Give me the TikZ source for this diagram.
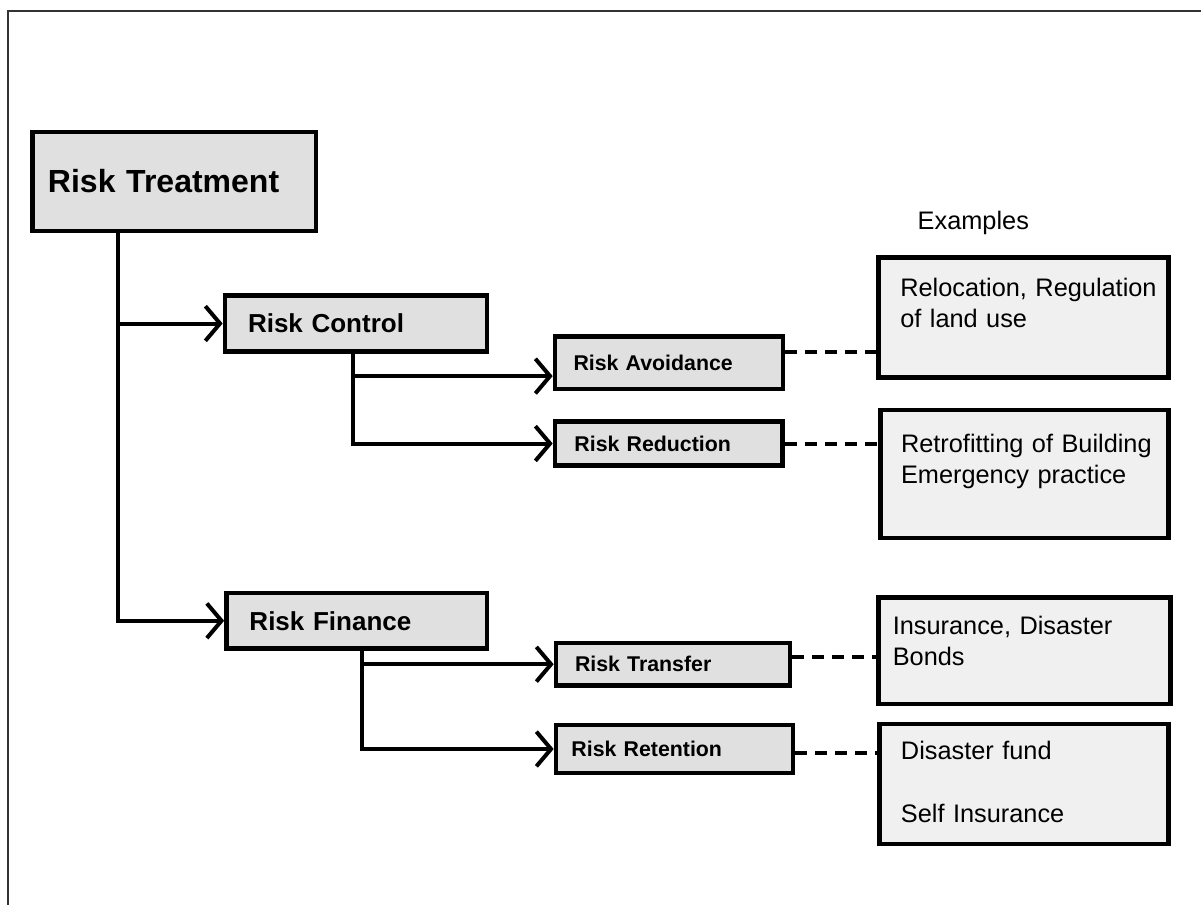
\documentclass[tikz,border=0pt]{standalone}
\usepackage{fontspec}
\setmainfont{Liberation Sans}
\usetikzlibrary{arrows.meta}
\definecolor{boxgray}{HTML}{E0E0E0}
\definecolor{examplegray}{HTML}{F0F0F0}
\tikzstyle{line} = [draw, line width=3pt, -{Straight Barb[length=11pt,width=26pt]}]
\tikzstyle{dashline} = [draw, line width=3pt, dash pattern=on 9pt off 6pt]
\tikzstyle{block} = [draw, rectangle, fill=boxgray, line width=3.5pt, inner sep=0pt, align=left]
\tikzstyle{subblock} = [block, font=\fontsize{16}{19}\selectfont\bfseries]
\tikzstyle{example} = [draw, rectangle, fill=examplegray, line width=3.5pt, inner sep=0pt, align=left, font=\fontsize{19}{23.25}\selectfont]
\tikzset{pad/.style={execute at begin node={\leftskip=#1}}}

\begin{document}
\begin{tikzpicture}[x=0.75pt, y=-0.75pt]
    \useasboundingbox (0,0) rectangle (1201,905);
    \draw[line width=1.5pt, black!80] (8,11) rectangle (1260,960);
    % main tree
    \node[block, font=\fontsize{24}{28}\selectfont\bfseries, text width=212.6pt, minimum height=74.25pt, pad=11.6pt] (treatment) at (174.25,181.5) {Risk Treatment};
    \node[block, font=\fontsize{19.5}{23}\selectfont\bfseries, text width=196.5pt, minimum height=42pt, pad=17.25pt] (control) at (356,323.5) {Risk Control};
    \node[block, font=\fontsize{19.5}{23}\selectfont\bfseries, text width=195.4pt, minimum height=41.6pt, pad=17.25pt] (finance) at (356.75,620.75) {Risk Finance};
    \node[subblock, text width=171pt, minimum height=39.4pt, pad=13.9pt] (avoidance) at (669,362.75) {Risk Avoidance};
    \node[subblock, text width=170.6pt, minimum height=33pt, pad=14.6pt] (reduction) at (668.75,443.5) {Risk Reduction};
    \node[subblock, text width=175.5pt, minimum height=31.9pt, pad=14.25pt] (transfer) at (673,664.25) {Risk Transfer};
    \node[subblock, text width=177.75pt, minimum height=36pt, pad=11.6pt] (retention) at (674.5,749) {Risk Retention};
    % examples
    \node[anchor=base west, font=\fontsize{19}{23}\selectfont] (examples) at (913,230) {Examples};
    \node[example, text width=217.5pt, text height=29.6pt, text depth=60.4pt, pad=16.5pt] (relocation) at (1023.3,317.5) {Relocation, Regulation\\of land use};
    \node[example, text width=216pt, text height=31.5pt, text depth=64.5pt, pad=15.4pt] (retrofit) at (1024.5,474) {Retrofitting of Building\\Emergency practice};
    \node[example, text width=219.2pt, text height=28.1pt, text depth=51.75pt, pad=10.9pt] (insurance) at (1024.4,650.75) {Insurance, Disaster\\Bonds};
    \node[example, text width=216.6pt, text height=26.25pt, text depth=63.75pt, pad=16.1pt] (fund) at (1023.9,784) {Disaster fund\\[24pt]Self Insurance};
    % connectors
    \coordinate (trunk) at ([xshift=-42pt]treatment.south);
    \path[line] (trunk) |- (control);
    \path[line] (trunk) |- (finance);
    \path[line] ([xshift=-2pt]control.south) |- ([yshift=-10pt]avoidance.west);
    \path[line] ([xshift=-2pt]control.south) |- (reduction.west);
    \path[line] ([xshift=4pt]finance.south) |- (transfer.west);
    \path[line] ([xshift=4pt]finance.south) |- (retention.west);
    \path[dashline] ([yshift=8pt]avoidance.east) -- ([yshift=8pt]avoidance.east -| relocation.west);
    \path[dashline] (reduction.east) -- (reduction.east -| retrofit.west);
    \path[dashline] ([yshift=5.4pt]transfer.east) -- ([yshift=5.4pt]transfer.east -| insurance.west);
    \path[dashline] ([yshift=-3pt]retention.east) -- ([yshift=-3pt]retention.east -| fund.west);
\end{tikzpicture}
\end{document}
